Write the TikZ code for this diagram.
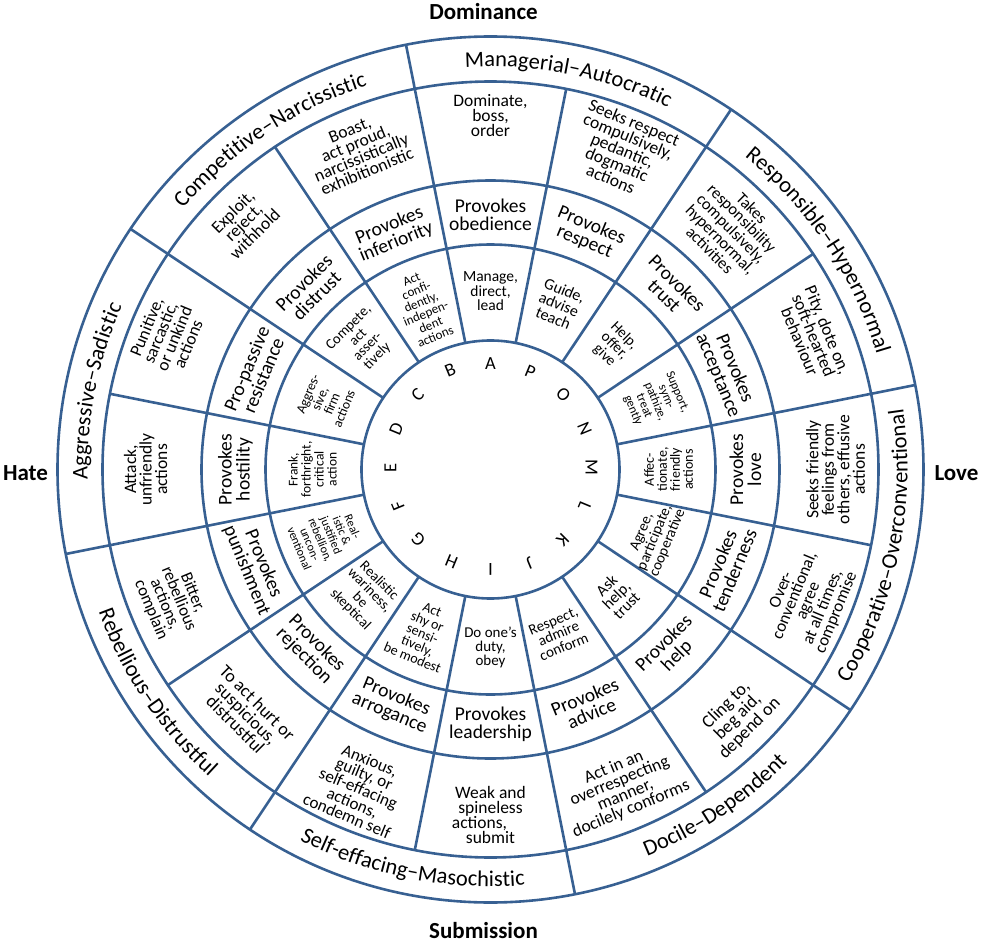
\documentclass[tikz,border=0pt]{standalone}
\usepackage{fontspec}
\setmainfont{Carlito}
\usetikzlibrary{decorations.text}
\definecolor{lineblue}{RGB}{55,96,146}
\newcommand\fs[2]{\fontsize{#1pt}{#2pt}\selectfont}
\newcommand\bandfont{\fontsize{22.5pt}{26pt}\selectfont}
\begin{document}
\begin{tikzpicture}[
  ring/.style={draw=lineblue, line width=2.6pt},
  cell/.style={align=center, inner sep=0pt, text=black},
  letter/.style={inner sep=0pt, font=\fs{18.5}{20}},
  axislabel/.style={inner sep=0pt, font=\fs{23}{26}\bfseries},
  bandtext/.style={decorate, decoration={text along path, text align=center, text={|\bandfont|#1}}}
]
\useasboundingbox (-490.5pt,-473.5pt) rectangle (491.5pt,469.5pt);

% circles
\foreach \r in {433,388,289,225,129} \draw[ring] (0,0) circle[radius=\r pt];
% spokes
\foreach \k in {0,...,15} \draw[ring] ({101.25-22.5*\k}:129pt) -- ({101.25-22.5*\k}:388pt);
\foreach \k in {0,...,7} \draw[ring] ({101.25-45*\k}:388pt) -- ({101.25-45*\k}:433pt);

% axis labels
\node[axislabel] (dom) at (-7pt,458pt) {Dominance};
\node[axislabel] (sub) at (-7pt,-461pt) {Submission};
\node[axislabel] (hate) at (-465pt,-4pt) {Hate};
\node[axislabel] (love) at (466pt,-4pt) {Love};

% band texts
\path[bandtext={Managerial–Autocratic}] (101.25:403pt) arc[start angle=101.25, end angle=56.25, radius=403pt];
\path[bandtext={Responsible–Hypernormal}] (56.25:403pt) arc[start angle=56.25, end angle=11.25, radius=403pt];
\path[bandtext={Cooperative–Overconventional}] (-33.75:417pt) arc[start angle=-33.75, end angle=11.25, radius=417pt];
\path[bandtext={Docile–Dependent}] (-78.75:417pt) arc[start angle=-78.75, end angle=-33.75, radius=417pt];
\path[bandtext={Self-effacing–Masochistic}] (-123.75:417pt) arc[start angle=-123.75, end angle=-78.75, radius=417pt];
\path[bandtext={Rebellious–Distrustful}] (-168.75:417pt) arc[start angle=-168.75, end angle=-123.75, radius=417pt];
\path[bandtext={Aggressive–Sadistic}] (191.25:403pt) arc[start angle=191.25, end angle=146.25, radius=403pt];
\path[bandtext={Competitive–Narcissistic}] (146.25:403pt) arc[start angle=146.25, end angle=101.25, radius=403pt];

% letters
\begin{scope}[shift={(0pt,2pt)}]
\node[letter,rotate=0] (lA) at (90:104pt) {A};
\node[letter,rotate=-22.5] (lP) at (67.5:104pt) {P};
\node[letter,rotate=-45] (lO) at (45:103pt) {O};
\node[letter,rotate=-67.5] (lN) at (22.5:102pt) {N};
\node[letter,rotate=-90] (lM) at (0:101pt) {M};
\node[letter,rotate=-112.5] (lL) at (-22.5:102pt) {L};
\node[letter,rotate=-135] (lK) at (-45:102pt) {K};
\node[letter,rotate=-157.5] (lJ) at (-67.5:103pt) {J};
\node[letter,rotate=-180] (lI) at (-90:102pt) {I};
\node[letter,rotate=-202.5] (lH) at (-112.5:102pt) {H};
\node[letter,rotate=-225] (lG) at (-135:102pt) {G};
\node[letter,rotate=-247.5] (lF) at (-157.5:100pt) {F};
\node[letter,rotate=90] (lE) at (180:100pt) {E};
\node[letter,rotate=67.5] (lD) at (157.5:102pt) {D};
\node[letter,rotate=45] (lC) at (135:103pt) {C};
\node[letter,rotate=22.5] (lB) at (112.5:105pt) {B};
\end{scope}

% inner ring (actions)
\node[cell,rotate=0,font=\fs{15.5}{14.5}] (iA) at (90:178pt) {Manage,\\direct,\\lead};
\node[cell,rotate=-22.5,font=\fs{16}{15}] (iP) at (67.5:179pt) {Guide,\\advise\\teach};
\node[cell,rotate=-45,font=\fs{15}{14}] (iO) at (45:175pt) {Help,\\offer,\\give};
\node[cell,rotate=-67.5,font=\fs{12.5}{12}] (iN) at (22.5:178pt) {Support,\\sym-\\pathize,\\treat\\gently};
\node[cell,rotate=90,font=\fs{14}{13}] (iM) at (0:178pt) {Affec-\\tionate,\\friendly\\actions};
\node[cell,rotate=67.5,font=\fs{15}{14}] (iL) at (-22.5:178pt) {Agree,\\participate,\\cooperative};
\node[cell,rotate=45,font=\fs{16}{14}] (iK) at (-45:178pt) {Ask\\help,\\trust};
\node[cell,rotate=22.5,font=\fs{15}{14}] (iJ) at (-67.5:178pt) {Respect,\\admire\\conform};
\node[cell,rotate=0,font=\fs{15}{14}] (iI) at (-90:178pt) {Do one's\\duty,\\obey};
\node[cell,rotate=-22.5,font=\fs{14}{13}] (iH) at (-112.5:178pt) {Act\\shy or\\sensi-\\tively,\\be modest};
\node[cell,rotate=-45,font=\fs{14.5}{13.5}] (iG) at (-135:178pt) {Realistic\\wariness,\\be\\skeptical};
\node[cell,rotate=-67.5,font=\fs{12}{11.5}] (iF) at (-157.5:178pt) {Real-\\istic \&\\justified\\rebellion,\\uncon-\\ventional};
\node[cell,rotate=90,font=\fs{13.5}{13}] (iE) at (180:178pt) {Frank,\\forthright,\\critical\\action};
\node[cell,rotate=67.5,font=\fs{13.5}{13}] (iD) at (157.5:178pt) {Aggres-\\sive,\\firm\\actions};
\node[cell,rotate=45,font=\fs{14.5}{13.5}] (iC) at (135:180pt) {Compete,\\act\\asser-\\tively};
\node[cell,rotate=22.5,font=\fs{13}{12.5}] (iB) at (112.5:175pt) {Act\\confi-\\dently,\\indepen-\\dent\\actions};

% provokes ring
\foreach \ang/\rot/\nm/\txt in {
  90/0/pA/{Provokes\\obedience},
  67.5/-22.5/pP/{Provokes\\respect},
  45/-45/pO/{Provokes\\trust},
  22.5/-67.5/pN/{Provokes\\acceptance},
  0/90/pM/{Provokes\\love},
  -22.5/67.5/pL/{Provokes\\tenderness},
  -45/45/pK/{Provokes\\help},
  -67.5/22.5/pJ/{Provokes\\advice},
  -90/0/pI/{Provokes\\leadership},
  -112.5/-22.5/pH/{Provokes\\arrogance},
  -135/-45/pG/{Provokes\\rejection},
  -157.5/-67.5/pF/{Provokes\\punishment},
  180/90/pE/{Provokes\\hostility},
  157.5/67.5/pD/{Pro-passive\\resistance},
  135/45/pC/{Provokes\\distrust},
  112.5/22.5/pB/{Provokes\\inferiority}}
  \node[cell,rotate=\rot,font=\fs{19.5}{18}] (\nm) at (\ang:255pt) {\txt};

% outer ring
\node[cell,rotate=0,font=\fs{17.5}{15}] (oA) at (90:354pt) {Dominate,\\boss,\\order};
\node[cell,rotate=-22.5,font=\fs{17.5}{15}] (oP) at (67.5:345pt) {Seeks respect\\compulsively,\\pedantic,\\dogmatic\\actions};
\node[cell,rotate=-45,font=\fs{16.5}{14}] (oO) at (45:340pt) {Takes\\responsibility\\compulsively,\\hypernormal,\\activities};
\node[cell,rotate=-67.5,font=\fs{17.5}{15}] (oN) at (22.5:350pt) {Pity, dote on,\\soft-hearted\\behaviour};
\node[cell,rotate=90,font=\fs{17.5}{15.5}] (oM) at (0:345pt) {Seeks friendly\\feelings from\\others, effusive\\actions};
\node[cell,rotate=67.5,font=\fs{17}{14.5}] (oL) at (-22.5:345pt) {Over-\\conventional,\\agree\\at all times,\\compromise};
\node[cell,rotate=45,font=\fs{18}{15.5}] (oK) at (-45:350pt) {Cling to,\\beg aid,\\depend on};
\node[cell,rotate=22.5,font=\fs{17.5}{15}] (oJ) at (-67.5:345pt) {Act in an\\overrespecting\\manner,\\docilely conforms};
\node[cell,rotate=0,font=\fs{17.5}{15}] (oI) at (-90:345pt) {Weak and\\spineless\\\hbox{actions,\kern22pt}\\submit};
\node[cell,rotate=-22.5,font=\fs{17}{14.5}] (oH) at (-112.5:345pt) {Anxious,\\guilty, or\\self-effacing\\actions,\\condemn self};
\node[cell,rotate=-45,font=\fs{18}{15.5}] (oG) at (-135:345pt) {To act hurt or\\suspicious,\\distrustful};
\node[cell,rotate=-67.5,font=\fs{17}{15}] (oF) at (-157.5:345pt) {Bitter,\\rebellious\\actions,\\complain};
\node[cell,rotate=90,font=\fs{17.5}{15.5}] (oE) at (180:345pt) {Attack,\\unfriendly\\actions};
\node[cell,rotate=67.5,font=\fs{17.5}{15}] (oD) at (157.5:350pt) {Punitive,\\sarcastic,\\or unkind\\actions};
\node[cell,rotate=45,font=\fs{17.5}{15}] (oC) at (135:349pt) {Exploit,\\reject,\\withhold};
\node[cell,rotate=22.5,font=\fs{17.5}{15}] (oB) at (112.5:345pt) {Boast,\\act proud,\\narcissistically\\exhibitionistic};
\end{tikzpicture}
\end{document}
